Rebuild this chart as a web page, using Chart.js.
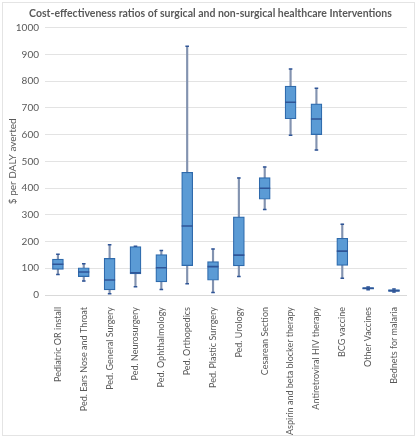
<!DOCTYPE html>
<html>
<head>
<meta charset="utf-8">
<script src="https://cdn.jsdelivr.net/npm/chart.js@4.4.1/dist/chart.umd.min.js"></script>
<style>
  html, body { margin: 0; padding: 0; background: #fff; }
  #wrap { position: relative; width: 411px; height: 432px; margin: 2px; border: 1px solid #e4e4e4; }
</style>
</head>
<body>
<div id="wrap"><canvas id="grafico"></canvas></div>
<script>
const labels = [
  "Pediatric OR install", "Ped. Ears Nose and Throat", "Ped. General Surgery",
  "Ped. Neurosurgery", "Ped. Ophthalmology", "Ped. Orthopedics",
  "Ped. Plastic Surrgery", "Ped. Urology", "Cesarean Section",
  "Aspirin and beta blocker therapy", "Antiretroviral HIV therapy",
  "BCG vaccine", "Other Vaccines", "Bednets for malaria"
];
const minimos  = [77, 52, 5, 31, 21, 42, 9, 69, 320, 597, 542, 63, 20, 11];
const q1       = [96, 69, 19, 79, 49, 110, 55, 109, 358, 659, 600, 111, 22, 13];
const medianas = [115, 86, 56, 83, 102, 258, 106, 149, 399, 721, 658, 164, 25, 16];
const q3       = [134, 102, 137, 181, 151, 459, 125, 292, 439, 781, 715, 212, 28, 20];
const maximos  = [152, 117, 188, 182, 166, 930, 172, 438, 479, 845, 773, 265, 30, 22];
const yTicks   = [0, 100, 200, 300, 400, 500, 600, 700, 800, 900, 1000];

const fonte = "Lato, 'Open Sans', sans-serif";
const cinza = "#595959";

new Chart(document.getElementById("grafico"), {
  data: {
    labels,
    datasets: [
      {
        type: "bar", label: "whisker", order: 3, grouped: false,
        data: labels.map((_, i) => [minimos[i], maximos[i]]),
        backgroundColor: "#8393b0", barThickness: 1.5
      },
      {
        type: "bar", label: "box", order: 2, grouped: false,
        data: labels.map((_, i) => [q1[i], q3[i]]),
        backgroundColor: "#5b9bd5", borderColor: "#2e6aac", borderWidth: 1.2,
        borderSkipped: false, barThickness: 11
      },
      {
        type: "line", label: "mediana", order: 1, showLine: false,
        data: medianas, pointStyle: "line", pointRadius: 5.5,
        borderColor: "#2f5597", borderWidth: 1.6
      },
      {
        type: "line", label: "min", order: 1, showLine: false,
        data: minimos, pointStyle: "line", pointRadius: 1.8,
        borderColor: "#2f5597", borderWidth: 1.5
      },
      {
        type: "line", label: "max", order: 1, showLine: false,
        data: maximos, pointStyle: "line", pointRadius: 1.8,
        borderColor: "#2f5597", borderWidth: 1.5
      }
    ]
  },
  options: {
    responsive: true,
    maintainAspectRatio: false,
    animation: false,
    layout: { padding: { top: 4, right: 0, bottom: 0, left: 4 } },
    plugins: {
      legend: { display: false },
      tooltip: { enabled: false },
      title: {
        display: true,
        text: "Cost-effectiveness ratios of surgical and non-surgical healthcare Interventions",
        color: cinza,
        font: { family: fonte, size: 10.5, weight: "bold" },
        padding: { top: 0, bottom: 8 }
      }
    },
    scales: {
      y: {
        min: 0, max: 1000,
        afterBuildTicks: s => { s.ticks = yTicks.map(v => ({ value: v })); },
        afterFit: s => { s.width = 38; },
        ticks: { color: cinza, font: { family: fonte, size: 10 }, padding: 6, callback: v => String(v) },
        grid: { color: "#e3e3e3", drawTicks: false },
        border: { display: false },
        title: { display: true, text: "$ per DALY averted", color: cinza, font: { family: fonte, size: 10 }, padding: 0 }
      },
      x: {
        afterFit: s => { s.height = 140; },
        ticks: { color: cinza, font: { family: fonte, size: 9 }, minRotation: 90, maxRotation: 90, autoSkip: false, padding: 4 },
        grid: { display: false },
        border: { color: "#d9d9d9" }
      }
    }
  }
});
</script>
</body>
</html>
